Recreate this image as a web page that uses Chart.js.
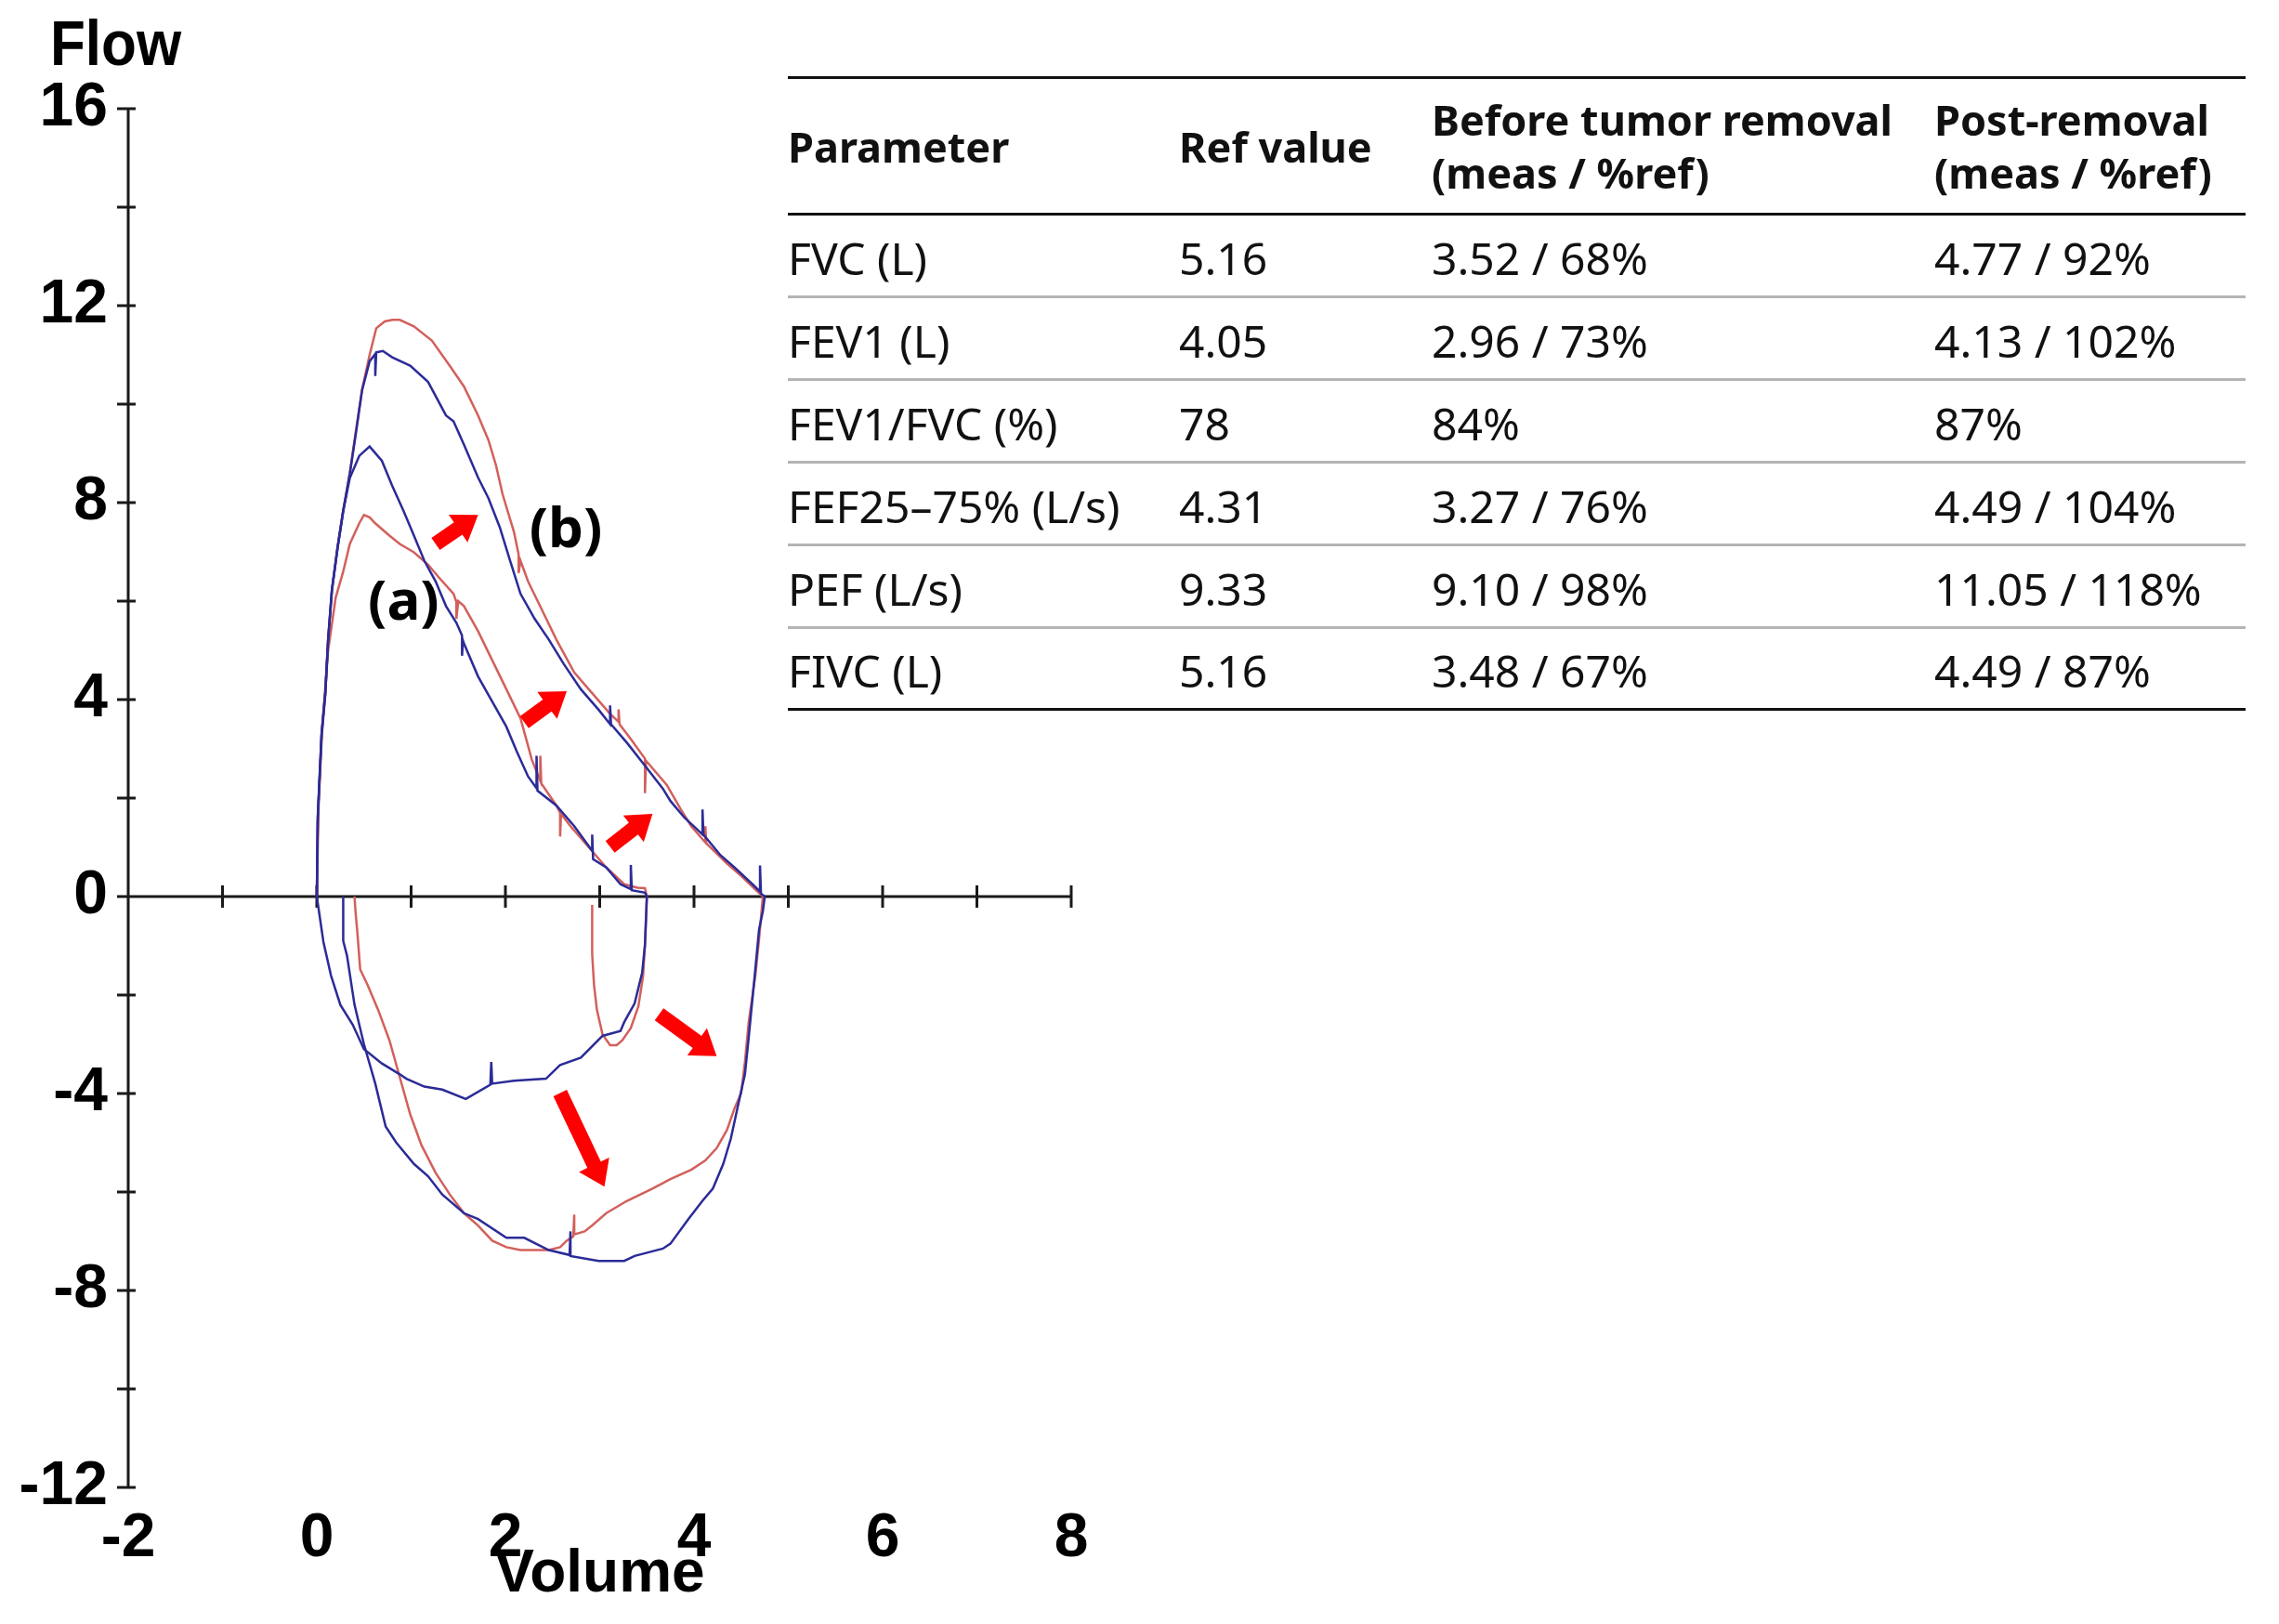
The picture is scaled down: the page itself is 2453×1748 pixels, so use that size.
<!DOCTYPE html>
<html>
<head>
<meta charset="utf-8">
<script src="https://cdn.jsdelivr.net/npm/chart.js@4.4.0/dist/chart.umd.min.js"></script>
<style>
  body { margin: 0; background: #fff; }
  #wrap { position: relative; width: 2453px; height: 1748px; overflow: hidden; }
  #flowChart { position: absolute; left: 0; top: 0; }
  #flowTitle { position: absolute; left: 54px; top: 6px; font: bold 62px 'Liberation Sans', Arial, sans-serif; color: #000; transform: scaleY(1.12); transform-origin: left top; }
  #params { position: absolute; left: 848px; top: 82px; width: 1569px; font-family: 'Noto Sans', sans-serif; color: #111; border-top: 3px solid #111; }
  .row { display: flex; align-items: center; box-sizing: border-box; height: 89px; border-bottom: 3px solid #b4b4b4; font-size: 48px; padding-top: 4px; }
  .row.head { height: 147px; border-bottom-color: #111; font-weight: bold; font-size: 45px; line-height: 57px; padding-top: 0; }
  .row.last { border-bottom-color: #111; height: 88px; }
  .row div:nth-child(1) { width: 421px; }
  .row div:nth-child(2) { width: 272px; }
  .row div:nth-child(3) { width: 541px; }
  .row div:nth-child(4) { width: 335px; white-space: nowrap; }
</style>
</head>
<body>
<div id="wrap">
  <canvas id="flowChart" width="2453" height="1748"></canvas>
  <div id="flowTitle">Flow</div>
  <div id="params"></div>
</div>
<script>
// flow-volume loops: [volume, flow]
// (a) before tumor removal, (b) after. blue and red are the two traces of each
const preBlueExp = [[0,0],[0.01,1.6],[0.05,3.29],[0.09,4.13],[0.12,5.22],[0.16,6.23],[0.22,7.08],[0.28,7.83],[0.35,8.5],[0.45,8.95],[0.56,9.14],[0.69,8.85],[0.8,8.34],[0.92,7.83],[1.03,7.33],[1.14,6.82],[1.26,6.4],[1.37,5.9],[1.48,5.56],[1.54,5.3],[1.54,4.89],[1.55,5.2],[1.56,5.14],[1.71,4.47],[1.86,3.96],[2.01,3.45],[2.12,2.95],[2.24,2.44],[2.33,2.2],[2.33,2.86],[2.34,2.15],[2.54,1.85],[2.73,1.43],[2.92,0.93],[2.92,1.26],[2.93,0.76],[3.07,0.59],[3.22,0.25],[3.33,0.15],[3.33,0.64],[3.34,0.13],[3.48,0.08],[3.5,0]];
const preBlueInsp = [[3.5,0],[3.48,-0.98],[3.45,-1.55],[3.37,-2.17],[3.26,-2.55],[3.22,-2.73],[3.03,-2.83],[2.8,-3.27],[2.58,-3.42],[2.43,-3.7],[2.09,-3.74],[1.86,-3.8],[1.85,-3.36],[1.84,-3.82],[1.58,-4.11],[1.33,-3.92],[1.14,-3.86],[0.95,-3.7],[0.88,-3.61],[0.69,-3.39],[0.5,-3.1],[0.38,-2.6],[0.25,-2.2],[0.15,-1.6],[0.07,-0.92],[0,0]];
const preRedExp = [[0,0],[0.02,2.0],[0.06,3.5],[0.12,5.0],[0.2,6.07],[0.28,6.6],[0.35,7.16],[0.45,7.58],[0.5,7.75],[0.56,7.7],[0.62,7.58],[0.77,7.33],[0.88,7.16],[1.03,6.99],[1.18,6.74],[1.29,6.49],[1.45,6.15],[1.48,5.98],[1.48,5.64],[1.5,6.0],[1.56,5.9],[1.71,5.39],[1.86,4.8],[2.01,4.21],[2.16,3.62],[2.28,2.78],[2.37,2.35],[2.37,2.86],[2.38,2.3],[2.54,1.85],[2.58,1.7],[2.58,1.22],[2.59,1.68],[2.69,1.43],[2.88,1.01],[3.07,0.59],[3.26,0.25],[3.4,0.18],[3.48,0.17],[3.5,0]];
const preRedInsp = [[3.5,0],[3.48,-0.98],[3.46,-1.61],[3.41,-2.23],[3.33,-2.67],[3.24,-2.92],[3.18,-3.02],[3.11,-3.02],[3.03,-2.8],[2.97,-2.3],[2.94,-1.8],[2.92,-1.17],[2.92,-0.17]];

const postBlueExp = [[0,0],[0.01,1.6],[0.05,3.29],[0.09,4.13],[0.12,5.22],[0.16,6.23],[0.22,7.08],[0.28,7.83],[0.35,8.59],[0.41,9.35],[0.48,10.28],[0.56,10.87],[0.62,11.02],[0.62,10.57],[0.63,11.05],[0.7,11.08],[0.8,10.95],[0.99,10.78],[1.18,10.45],[1.37,9.77],[1.45,9.65],[1.56,9.18],[1.71,8.51],[1.82,8.09],[1.94,7.5],[2.05,6.82],[2.16,6.15],[2.31,5.64],[2.46,5.22],[2.62,4.72],[2.8,4.21],[2.99,3.79],[3.11,3.5],[3.11,3.88],[3.12,3.5],[3.29,3.12],[3.5,2.61],[3.67,2.19],[3.75,1.94],[3.9,1.6],[4.09,1.26],[4.09,1.77],[4.1,1.26],[4.28,0.84],[4.43,0.59],[4.62,0.25],[4.7,0.1],[4.7,0.63],[4.71,0.06],[4.75,0]];
const postBlueInsp = [[4.75,0],[4.73,-0.3],[4.69,-0.67],[4.65,-1.48],[4.58,-2.86],[4.54,-3.61],[4.46,-4.3],[4.39,-4.92],[4.31,-5.43],[4.2,-5.93],[4.09,-6.18],[3.94,-6.55],[3.75,-7.05],[3.67,-7.15],[3.37,-7.3],[3.26,-7.4],[2.99,-7.4],[2.69,-7.3],[2.69,-6.8],[2.68,-7.28],[2.46,-7.18],[2.2,-6.93],[2.01,-6.93],[1.71,-6.55],[1.56,-6.43],[1.33,-6.05],[1.18,-5.68],[1.03,-5.43],[0.84,-4.99],[0.73,-4.67],[0.62,-3.8],[0.5,-3.0],[0.4,-2.2],[0.32,-1.2],[0.28,-0.9],[0.28,0]];
const postRedExp = [[0,0],[0.01,1.5],[0.05,3.2],[0.09,4.1],[0.12,5.2],[0.16,6.2],[0.22,7.1],[0.28,7.85],[0.35,8.6],[0.41,9.4],[0.48,10.3],[0.56,11.0],[0.63,11.54],[0.72,11.68],[0.8,11.71],[0.88,11.71],[1.03,11.58],[1.22,11.29],[1.41,10.78],[1.56,10.36],[1.71,9.77],[1.82,9.27],[1.9,8.76],[1.97,8.17],[2.09,7.41],[2.14,6.95],[2.14,6.57],[2.16,6.82],[2.24,6.4],[2.39,5.81],[2.54,5.22],[2.73,4.55],[2.92,4.13],[3.11,3.71],[3.2,3.55],[3.2,3.8],[3.21,3.5],[3.33,3.2],[3.48,2.8],[3.48,2.1],[3.49,2.76],[3.71,2.27],[3.86,1.77],[3.97,1.43],[4.12,1.1],[4.12,1.43],[4.13,1.08],[4.35,0.67],[4.5,0.42],[4.73,0]];
const postRedInsp = [[4.73,0],[4.69,-0.86],[4.65,-1.61],[4.58,-2.55],[4.54,-3.36],[4.5,-3.99],[4.43,-4.3],[4.35,-4.74],[4.24,-5.11],[4.12,-5.36],[3.97,-5.55],[3.75,-5.74],[3.56,-5.93],[3.29,-6.18],[3.07,-6.43],[2.92,-6.68],[2.84,-6.8],[2.73,-6.86],[2.73,-6.46],[2.72,-6.9],[2.65,-6.99],[2.58,-7.12],[2.46,-7.18],[2.16,-7.18],[2.01,-7.12],[1.86,-6.99],[1.71,-6.68],[1.56,-6.43],[1.41,-6.05],[1.26,-5.61],[1.11,-5.05],[0.99,-4.42],[0.88,-3.67],[0.77,-2.92],[0.65,-2.3],[0.54,-1.8],[0.46,-1.48],[0.43,-0.73],[0.41,-0.3],[0.4,0]];

// red arrows (data units) and the loop labels
const arrowFrom = [[1.26,7.16],[2.2,3.54],[3.11,1.01],[3.63,-2.39],[2.58,-3.99]];
const arrowTo = [[1.71,7.75],[2.65,4.17],[3.56,1.68],[4.24,-3.24],[3.05,-5.89]];
const loopLabels = ['(a)', '(b)'];
const loopLabelPos = [[0.92,5.95],[2.64,7.42]];

// table
const tableHead = [['Parameter'], ['Ref value'], ['Before tumor removal', '(meas / %ref)'], ['Post-removal', '(meas / %ref)']];
const params = ['FVC (L)', 'FEV1 (L)', 'FEV1/FVC (%)', 'FEF25–75% (L/s)', 'PEF (L/s)', 'FIVC (L)'];
const refValues = ['5.16', '4.05', '78', '4.31', '9.33', '5.16'];
const beforeValues = ['3.52 / 68%', '2.96 / 73%', '84%', '3.27 / 76%', '9.10 / 98%', '3.48 / 67%'];
const postValues = ['4.77 / 92%', '4.13 / 102%', '87%', '4.49 / 104%', '11.05 / 118%', '4.49 / 87%'];

const blue = '#2b2b98';
const red = '#d2605c';
const axisFont = "'Liberation Sans', Arial, sans-serif";

function pts(a, b) {
    return a.concat(b).map(p => ({ x: p[0], y: p[1] }));
}

// axes drawn the old spirometer way: y line at left, x line through zero
const axesPlugin = {
    id: 'axes',
    beforeDatasetsDraw(chart) {
        const { ctx, scales: { x, y } } = chart;
        const left = x.getPixelForValue(x.min);
        const zero = y.getPixelForValue(0);
        ctx.save();
        ctx.strokeStyle = '#1a1a1a';
        ctx.lineWidth = 3;
        ctx.beginPath();
        ctx.moveTo(left, y.getPixelForValue(y.max));
        ctx.lineTo(left, y.getPixelForValue(y.min));
        ctx.moveTo(left, zero);
        ctx.lineTo(x.getPixelForValue(x.max), zero);
        for (let v = y.min; v <= y.max; v += 2) {
            const py = y.getPixelForValue(v);
            ctx.moveTo(left - 12, py);
            ctx.lineTo(left + 8, py);
        }
        for (let v = x.min + 1; v <= x.max; v += 1) {
            const px = x.getPixelForValue(v);
            ctx.moveTo(px, zero - 12);
            ctx.lineTo(px, zero + 12);
        }
        ctx.stroke();
        ctx.restore();
    }
};

function drawArrow(ctx, x1, y1, x2, y2) {
    const len = Math.hypot(x2 - x1, y2 - y1);
    const shaft = 8, head = 18, headLen = 26;
    ctx.save();
    ctx.translate(x1, y1);
    ctx.rotate(Math.atan2(y2 - y1, x2 - x1));
    ctx.beginPath();
    ctx.moveTo(0, -shaft);
    ctx.lineTo(len - headLen, -shaft);
    ctx.lineTo(len - headLen, -head);
    ctx.lineTo(len, 0);
    ctx.lineTo(len - headLen, head);
    ctx.lineTo(len - headLen, shaft);
    ctx.lineTo(0, shaft);
    ctx.closePath();
    ctx.fill();
    ctx.restore();
}

const notesPlugin = {
    id: 'notes',
    afterDatasetsDraw(chart) {
        const { ctx, scales: { x, y } } = chart;
        ctx.save();
        ctx.fillStyle = '#ff0000';
        arrowFrom.forEach((f, i) => {
            const t = arrowTo[i];
            drawArrow(ctx, x.getPixelForValue(f[0]), y.getPixelForValue(f[1]),
                x.getPixelForValue(t[0]), y.getPixelForValue(t[1]));
        });
        ctx.fillStyle = '#000';
        ctx.font = "bold 60px 'Noto Sans', sans-serif";
        ctx.textAlign = 'center';
        ctx.textBaseline = 'middle';
        loopLabels.forEach((txt, i) => {
            ctx.fillText(txt, x.getPixelForValue(loopLabelPos[i][0]), y.getPixelForValue(loopLabelPos[i][1]));
        });
        ctx.restore();
    }
};

const ctx = document.getElementById('flowChart').getContext('2d');
const flowChart = new Chart(ctx, {
    type: 'scatter',
    data: {
        datasets: [
            { label: '(a) trace 1', data: pts(preBlueExp, preBlueInsp), borderColor: blue },
            { label: '(b) trace 1', data: pts(postBlueExp, postBlueInsp), borderColor: blue },
            { label: '(a) trace 2', data: pts(preRedExp, preRedInsp), borderColor: red },
            { label: '(b) trace 2', data: pts(postRedExp, postRedInsp), borderColor: red }
        ]
    },
    options: {
        responsive: false,
        animation: false,
        showLine: true,
        elements: {
            point: { radius: 0 },
            line: { borderWidth: 2.5, tension: 0, fill: false }
        },
        layout: { padding: { left: 10, right: 1300, top: 117, bottom: 0 } },
        plugins: {
            legend: { display: false },
            tooltip: { enabled: false }
        },
        scales: {
            x: {
                type: 'linear',
                min: -2,
                max: 8,
                ticks: { stepSize: 2, color: '#000', padding: 16, font: { family: axisFont, size: 66, weight: 'bold' } },
                grid: { display: false, drawTicks: false },
                border: { display: false },
                title: {
                    display: true,
                    text: 'Volume',
                    color: '#000',
                    font: { family: axisFont, size: 64, weight: 'bold', lineHeight: 1.2 },
                    padding: { top: 0, bottom: 14 }
                },
                afterFit(scale) { scale.height = 147; }
            },
            y: {
                min: -12,
                max: 16,
                ticks: { stepSize: 4, color: '#000', padding: 22, font: { family: axisFont, size: 66, weight: 'bold' } },
                grid: { display: false, drawTicks: false },
                border: { display: false },
                afterFit(scale) { scale.width = 128; }
            }
        }
    },
    plugins: [axesPlugin, notesPlugin]
});

// parameter table
const table = document.getElementById('params');
function addRow(cells, cls) {
    const row = document.createElement('div');
    row.className = 'row' + (cls ? ' ' + cls : '');
    cells.forEach(c => {
        const cell = document.createElement('div');
        if (Array.isArray(c)) {
            c.forEach((line, i) => {
                if (i) cell.appendChild(document.createElement('br'));
                cell.appendChild(document.createTextNode(line));
            });
        } else {
            cell.textContent = c;
        }
        row.appendChild(cell);
    });
    table.appendChild(row);
}
addRow(tableHead, 'head');
params.forEach((p, i) => {
    addRow([p, refValues[i], beforeValues[i], postValues[i]], i === params.length - 1 ? 'last' : '');
});
</script>
</body>
</html>
